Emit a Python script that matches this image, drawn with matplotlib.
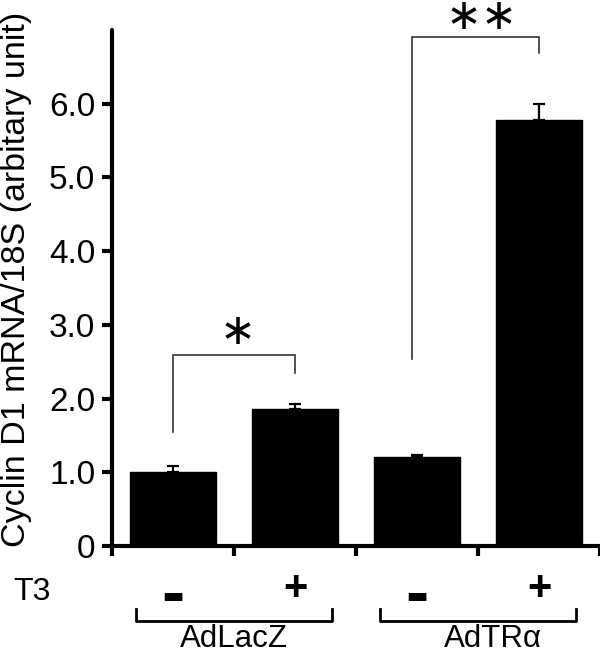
import matplotlib
matplotlib.use("Agg")
import matplotlib.pyplot as plt
import matplotlib.transforms as mtransforms

plt.rcParams['font.family'] = ['Liberation Sans', 'DejaVu Sans']

# ---- data ----
conditions = ["AdLacZ T3-", "AdLacZ T3+", "AdTRα T3-", "AdTRα T3+"]
values = [1.00, 1.86, 1.21, 5.78]
errors = [0.08, 0.06, 0.03, 0.21]
t3_labels = ["-", "+", "-", "+"]
groups = ["AdLacZ", "AdTRα"]
ytick_vals = [0, 1, 2, 3, 4, 5, 6]
ytick_labels = ["0", "1.0", "2.0", "3.0", "4.0", "5.0", "6.0"]
ylabel = "Cyclin D1 mRNA/18S (arbitary unit)"

fig = plt.figure(figsize=(6.0, 6.53), dpi=100)
ax = fig.add_axes([0.1867, 0.1639, 0.8133, 0.7901])

x = list(range(len(values)))
ax.bar(x, values, width=0.70, color="black", edgecolor="black", zorder=2)
ax.errorbar(x, values, yerr=[[0] * len(errors), errors], fmt="none",
            ecolor="black", elinewidth=1.6, capsize=4.5, capthick=1.6, zorder=3)

ax.set_xlim(-0.5, 3.5)
ax.set_ylim(0, 7.0)
ax.set_yticks(ytick_vals)
ax.set_yticklabels(ytick_labels, fontsize=24)
ax.set_xticks([-0.5, 0.5, 1.5, 2.5, 3.5])
ax.set_xticklabels([])

for side in ["top", "right"]:
    ax.spines[side].set_visible(False)
for side in ["left", "bottom"]:
    ax.spines[side].set_linewidth(3.0)
    ax.spines[side].set_capstyle("round")
ax.tick_params(axis="both", direction="out", length=7, width=3.0, pad=5)
fig.text(17 / 600, 1 - 279 / 653, ylabel, rotation=90, fontsize=24.5,
         ha="center", va="center")

# significance brackets
def bracket(x1, x2, ytop, y1, y2, xs, ys, label):
    ax.plot([x1, x1, x2, x2], [y1, ytop, ytop, y2], color="#333333", lw=1.2,
            solid_joinstyle="miter", zorder=4, clip_on=False)
    ax.text(xs, ys, label, ha="center", va="center",
            fontsize=31, family="DejaVu Sans", clip_on=False)

bracket(0, 1, 2.585, 1.55, 2.35, 0.525, 2.90, "∗")
bracket(2 - 0.04, 3, 6.91, 2.53, 6.69, 2.53, 7.18, "∗∗")

# labels under the axis
trans = mtransforms.blended_transform_factory(ax.transData, fig.transFigure)
fig.text(0.022, 1 - 592 / 653, "T3", fontsize=23, ha="left", va="center")
for xi, s in zip(x, t3_labels):
    if s == "-":
        ax.text(xi, 1 - 597 / 653, s, transform=trans, fontsize=50,
                fontweight="bold", ha="center", va="center")
    else:
        ax.text(xi, 1 - 589 / 653, s, transform=trans, fontsize=30,
                fontweight="bold", ha="center", va="center")

ybr = 1 - 621 / 653
ytk = 1 - 609 / 653
for gi, g in enumerate(groups):
    xa = 2 * gi - 0.30
    xb = 2 * gi + 1.30
    ax.plot([xa, xa, xb, xb], [ytk, ybr, ybr, ytk], transform=trans,
            color="black", lw=2.0, clip_on=False)
    ax.text(2 * gi + 0.5 + (0.12 if gi == 1 else 0.0), 1 - 639 / 653, g,
            transform=trans, fontsize=22.5, ha="center", va="center")

fig.savefig("out.png", dpi=100)
